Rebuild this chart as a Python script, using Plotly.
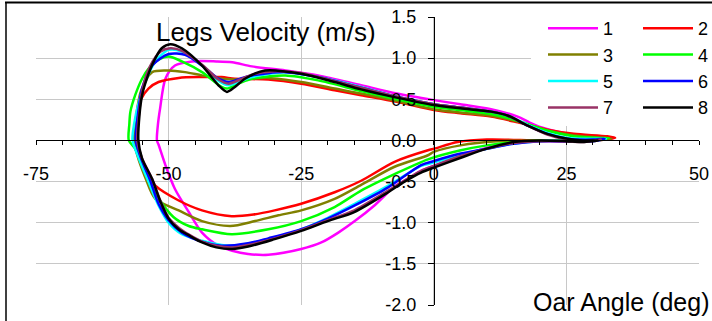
import plotly.graph_objects as go

# ---- data: closed loops (oar angle, legs velocity) ----
names = ["1", "2", "3", "4", "5", "6", "7", "8"]
colors = ["#ff00ff", "#ff0000", "#808000", "#00ff00", "#00ffff", "#0000ff", "#993366", "#000000"]

x1 = [-52.2, -52.0, -51.6, -50.6, -48.8, -45.6, -41, -38, -34.3, -28, -21.8, -13.7, -7, 0, 5, 10.8, 15.8, 18, 20.2, 25.2, 31.4, 33.7,
      30, 25, 20, 15, 10, 5, 0, -2.4, -5, -7.4, -11.2, -14.9, -18, -21.2, -25, -31.2, -35, -38, -40.6, -43.7, -46.2, -48.8, -50.6, -51.9, -52.2]
y1 = [0.0, 0.2, 0.39, 0.75, 0.91, 0.96, 0.96, 0.95, 0.90, 0.85, 0.79, 0.67, 0.57, 0.49, 0.44, 0.38, 0.29, 0.22, 0.16, 0.08, 0.03, 0.02,
      0.0, -0.01, -0.01, -0.03, -0.09, -0.2, -0.31, -0.37, -0.47, -0.56, -0.79, -0.98, -1.12, -1.24, -1.32, -1.39, -1.38, -1.34, -1.28, -1.12, -0.87, -0.59, -0.30, -0.05, 0.0]

x2 = [-56.6, -56.2, -55.2, -53.8, -51.9, -48.1, -43.7, -40, -37.5, -31.2, -25, -18.7, -13.7, -7, 0, 5, 10.8, 15.8, 21.4, 26.4, 32.7, 34.2,
      30, 20, 10, 4.5, 0.1, -1.1, -7.4, -13.7, -18.7, -25, -30, -34, -38.1, -43.7, -48.1, -52.5, -54.4, -55.8, -56.6]
y2 = [0.0, 0.25, 0.5, 0.63, 0.71, 0.76, 0.77, 0.77, 0.75, 0.74, 0.69, 0.61, 0.55, 0.47, 0.37, 0.33, 0.29, 0.22, 0.13, 0.08, 0.05, 0.03,
      0.0, 0.0, 0.01, -0.02, -0.10, -0.12, -0.26, -0.49, -0.63, -0.77, -0.85, -0.90, -0.92, -0.85, -0.73, -0.55, -0.38, -0.18, 0.0]

x3 = [-56.5, -56.1, -55.2, -53.1, -50, -46.9, -43.7, -40, -37.5, -31.2, -25, -18.7, -13.7, -7, 0, 5, 10.8, 15.8, 21.4, 26.4, 32, 33.5,
      30, 20, 12, 5, 0, -1.1, -7.4, -13.7, -18.7, -25, -29.3, -33.7, -38.4, -43.7, -48.1, -52.5, -54.4, -55.9, -56.5]
y3 = [0.0, 0.3, 0.6, 0.83, 0.85, 0.83, 0.79, 0.75, 0.74, 0.76, 0.71, 0.63, 0.57, 0.48, 0.38, 0.34, 0.30, 0.23, 0.12, 0.06, 0.03, 0.02,
      0.0, 0.0, -0.01, -0.06, -0.14, -0.18, -0.32, -0.54, -0.71, -0.85, -0.91, -0.98, -1.04, -0.98, -0.85, -0.71, -0.45, -0.18, 0.0]

x4 = [-57.5, -57.4, -57.2, -56.3, -55, -53.8, -51.9, -50, -47.5, -43.7, -40, -39, -36.5, -34.3, -28, -21.8, -13.7, -7, 0, 5, 10.8, 15.8, 21.4, 26.4, 31, 33,
      30, 25, 17, 10, 5.1, -1.1, -7.4, -13.7, -18.7, -25, -31.2, -38.1, -43.7, -46.2, -49.1, -51.6, -53.5, -55, -56.3, -57.5]
y4 = [0.0, 0.2, 0.35, 0.55, 0.75, 0.87, 0.98, 1.02, 0.96, 0.83, 0.65, 0.63, 0.70, 0.75, 0.79, 0.73, 0.60, 0.50, 0.41, 0.37, 0.32, 0.24, 0.12, 0.05, 0.03, 0.03,
      0.0, 0.0, -0.01, -0.06, -0.12, -0.23, -0.41, -0.61, -0.81, -0.98, -1.08, -1.14, -1.08, -1.04, -0.93, -0.73, -0.51, -0.30, -0.10, 0.0]

x5 = [-56.8, -56.5, -55.6, -54.4, -52.5, -50, -47.5, -43.7, -40.5, -38.7, -36.5, -34.3, -28, -21.8, -13.7, -7, 0, 5, 10.8, 14, 17.7, 21.4, 25.2, 30, 32.5,
      30, 25, 20, 15, 10, 5.1, 0, -2.4, -8.6, -14.9, -20, -25, -31.2, -37.5, -40, -43.7, -47.5, -50, -51.9, -53.8, -55.6, -56.8]
y5 = [0.0, 0.2, 0.47, 0.71, 0.96, 1.10, 1.08, 0.91, 0.72, 0.67, 0.72, 0.77, 0.83, 0.77, 0.65, 0.53, 0.44, 0.40, 0.35, 0.30, 0.19, 0.09, 0.03, 0.02, 0.02,
      0.0, 0.0, -0.01, -0.04, -0.1, -0.17, -0.27, -0.31, -0.55, -0.77, -0.94, -1.08, -1.20, -1.28, -1.27, -1.22, -1.14, -1.0, -0.79, -0.5, -0.22, 0.0]

x6 = [-56.2, -55.8, -55, -53.1, -50, -46.9, -43.7, -40.6, -38.7, -36.5, -34.3, -28, -21.8, -13.7, -7, 0, 5, 10.8, 14, 17.7, 21.4, 25.2, 30, 32.2,
      30, 25, 20, 15, 10, 5.1, 0, -2.4, -8.6, -14.9, -20, -25, -31.2, -35, -40, -43.7, -47.5, -50, -51.9, -53.5, -55.3, -56.2]
y6 = [0.0, 0.3, 0.63, 0.91, 1.05, 1.04, 0.91, 0.75, 0.71, 0.75, 0.79, 0.83, 0.77, 0.64, 0.53, 0.44, 0.40, 0.35, 0.30, 0.18, 0.08, 0.02, 0.01, 0.02,
      -0.01, -0.01, -0.01, -0.04, -0.1, -0.16, -0.25, -0.30, -0.57, -0.79, -0.95, -1.08, -1.19, -1.25, -1.28, -1.23, -1.12, -0.97, -0.77, -0.48, -0.2, 0.0]

x7 = [-55.9, -55.6, -55, -53.5, -51.5, -49.7, -47.5, -43.7, -40.6, -38.7, -36.5, -34.3, -30, -25, -18.7, -13.7, -7, 0, 5, 10.8, 14, 17.7, 21.4, 25.2, 28, 31.5,
      28, 25, 20, 15, 10, 5.1, 0, -2.4, -8.6, -15, -20, -25, -30, -35, -38, -41, -43.7, -46, -48.1, -50, -51.5, -53.1, -55, -55.9]
y7 = [0.0, 0.3, 0.6, 0.9, 1.08, 1.12, 1.09, 0.92, 0.74, 0.69, 0.74, 0.80, 0.84, 0.82, 0.72, 0.64, 0.53, 0.44, 0.40, 0.35, 0.30, 0.18, 0.07, 0.01, -0.01, 0.01,
      -0.02, -0.01, -0.01, -0.03, -0.1, -0.19, -0.31, -0.37, -0.61, -0.85, -0.97, -1.09, -1.19, -1.27, -1.30, -1.28, -1.23, -1.15, -1.06, -0.94, -0.74, -0.47, -0.22, 0.0]

x8 = [-55.7, -55.5, -55, -54.1, -52.8, -51.3, -49.7, -47.5, -43.7, -40.6, -39, -37.5, -35.6, -31.8, -25, -18.7, -13.7, -7, 0, 5, 10.8, 14, 17.7, 21.4, 25.2, 28, 31,
      28, 25, 20, 15, 10, 5.1, 0, -2.4, -5.5, -8.6, -15, -20, -25, -30, -35, -38, -41, -43.7, -46, -48.1, -50, -51.5, -53.1, -55, -55.7]
y8 = [0.0, 0.30, 0.55, 0.75, 0.96, 1.12, 1.17, 1.12, 0.91, 0.67, 0.59, 0.65, 0.75, 0.85, 0.81, 0.71, 0.62, 0.52, 0.43, 0.39, 0.35, 0.30, 0.18, 0.08, 0.02, 0.0, 0.0,
      -0.02, -0.01, 0.0, -0.02, -0.1, -0.21, -0.33, -0.39, -0.5, -0.63, -0.87, -0.98, -1.10, -1.20, -1.29, -1.32, -1.30, -1.24, -1.16, -1.08, -0.95, -0.75, -0.47, -0.22, 0.0]

xs = [x1, x2, x3, x4, x5, x6, x7, x8]
ys = [y1, y2, y3, y4, y5, y6, y7, y8]

x_ticks = [-75, -50, -25, 0, 25, 50]
y_ticks = [-2.0, -1.5, -1.0, -0.5, 0.0, 0.5, 1.0, 1.5]

FONT = "Liberation Sans, Arial, sans-serif"
fig = go.Figure()
for i, (n, c, xv, yv) in enumerate(zip(names, colors, xs, ys)):
    fig.add_trace(go.Scatter(
        x=xv, y=yv, mode="lines", name=n,
        line=dict(color=c, width=2.5, shape="spline", smoothing=0.8),
        legend="legend" if i % 2 == 0 else "legend2",
        hoverinfo="skip",
    ))

W, H = 712, 321
ml, mr, mt, mb = 36, 13, 17, 16
pw, ph = W - ml - mr, H - mt - mb

def px2x(px):
    return (px - ml) / pw

def px2y(py):
    return (H - mb - py) / ph

grid = "#c8c8c8"
fig.update_layout(
    width=W, height=H,
    margin=dict(l=ml, r=mr, t=mt, b=mb, pad=0, autoexpand=False),
    paper_bgcolor="white", plot_bgcolor="white",
    font=dict(family=FONT, size=18, color="black"),
    showlegend=True,
    xaxis=dict(
        range=[-75, 50], tickmode="array", tickvals=x_ticks,
        ticktext=[str(v) for v in x_ticks], automargin=False,
        showgrid=True, gridcolor=grid, gridwidth=1, zeroline=False,
        showline=True, linecolor="black", linewidth=1,
        anchor="free", position=2 / 3.5,
        ticks="outside", ticklen=4, tickcolor="black", tickwidth=1,
        minor=dict(dtick=5, tick0=0, ticks="outside", ticklen=4, tickcolor="black", showgrid=False),
        tickfont=dict(size=18), ticklabelstandoff=13,
    ),
    yaxis=dict(
        range=[-2, 1.5], tickmode="array", tickvals=y_ticks,
        ticktext=["%.1f" % v for v in y_ticks], automargin=False,
        showgrid=True, gridcolor=grid, gridwidth=1, zeroline=False,
        showline=True, linecolor="black", linewidth=1,
        anchor="free", position=0.6,
        ticks="outside", ticklen=6, tickcolor="black", tickwidth=1,
        tickfont=dict(size=18), ticklabelstandoff=8,
    ),
    legend=dict(xref="container", yref="container", x=543 / W, y=1 - 10 / H,
                xanchor="left", yanchor="top",
                bgcolor="white", borderwidth=0, font=dict(size=18),
                itemwidth=50, tracegroupgap=0),
    legend2=dict(xref="container", yref="container", x=638 / W, y=1 - 10 / H,
                 xanchor="left", yanchor="top",
                 bgcolor="white", borderwidth=0, font=dict(size=18),
                 itemwidth=50, tracegroupgap=0),
    shapes=[
        dict(type="rect", xref="paper", yref="paper", x0=px2x(531), x1=px2x(715),
             y0=px2y(118), y1=px2y(4), fillcolor="white", line=dict(width=0), layer="above"),
        dict(type="line", xref="paper", yref="paper", x0=px2x(5), x1=px2x(720),
             y0=px2y(2.5), y1=px2y(2.5), line=dict(color="black", width=2)),
        dict(type="line", xref="paper", yref="paper", x0=px2x(6), x1=px2x(6),
             y0=px2y(2.5), y1=px2y(330), line=dict(color="black", width=1.5)),
    ],
    annotations=[
        dict(text="Legs Velocity (m/s)", xref="paper", yref="paper",
             x=px2x(378), y=px2y(32), xanchor="right", yanchor="middle",
             showarrow=False, font=dict(size=26, family=FONT)),
        dict(text="Oar Angle (deg)", xref="paper", yref="paper",
             x=px2x(531), y=px2y(302), xanchor="left", yanchor="middle",
             showarrow=False, font=dict(size=25, family=FONT)),
    ],
)

fig.write_html("out.html", config={"displayModeBar": False},
               post_script="document.body.style.margin='0px';document.body.style.overflow='hidden';")
